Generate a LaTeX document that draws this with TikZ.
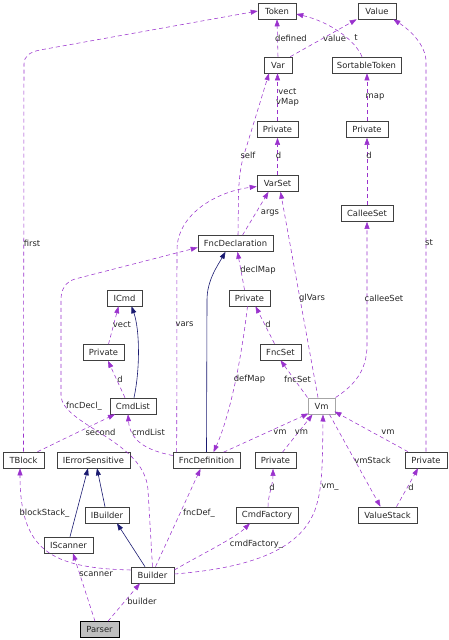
\documentclass[tikz,border=0pt]{standalone}
\usepackage{fontspec}
\setmainfont{DejaVu Sans}
\usetikzlibrary{arrows.meta,calc}
\definecolor{usecol}{HTML}{9A32CD}
\definecolor{inhcol}{HTML}{191970}
\tikzset{
 cls/.style={draw=black!75, line width=0.6pt, fill=white, minimum height=16pt, inner sep=0pt, font=\fontsize{8.4}{10}\selectfont, text=black!85},
 use/.style={draw=usecol, line width=0.55pt, dash pattern=on 4pt off 3pt, -{Triangle[length=7pt,width=5pt,fill=usecol]}},
 inh/.style={draw=inhcol, line width=0.6pt, -{Triangle[length=7pt,width=5pt,fill=inhcol]}},
 lbl/.style={inner sep=0pt, font=\fontsize{8.4}{10}\selectfont, text=black!85},
}
\begin{document}
\begin{tikzpicture}[x=1pt,y=-1pt]
\useasboundingbox (0,0) rectangle (449,640);
% classes
\node[cls, minimum width=38pt] (Token) at (277,11) {Token};
\node[cls, minimum width=38pt] (Value) at (377,11) {Value};
\node[cls, minimum width=28pt] (Var) at (278,65) {Var};
\node[cls, minimum width=69pt] (SortableToken) at (366.5,65) {SortableToken};
\node[cls, minimum width=41pt] (PrivA) at (277.5,129.5) {Private};
\node[cls, minimum width=42pt] (PrivB) at (367,129.5) {Private};
\node[cls, minimum width=41pt] (VarSet) at (277.5,183.5) {VarSet};
\node[cls, minimum width=52pt] (CalleeSet) at (367,213.5) {CalleeSet};
\node[cls, minimum width=75pt] (FncDecl) at (235.5,243.5) {FncDeclaration};
\node[cls, minimum width=41pt] (PrivC) at (249.5,298) {Private};
\node[cls, minimum width=41pt] (FncSet) at (280.5,352) {FncSet};
\node[cls, minimum width=35pt] (ICmd) at (124.5,298) {ICmd};
\node[cls, minimum width=41pt] (PrivD) at (103.5,352.5) {Private};
\node[cls, minimum width=46pt] (CmdList) at (133,406) {CmdList};
\node[cls, minimum width=27pt, draw=gray!70, line width=1pt] (Vm) at (321.5,406) {Vm};
\node[cls, minimum width=41pt] (TBlock) at (23.5,460) {TBlock};
\node[cls, minimum width=73pt] (IErr) at (93.5,460) {IErrorSensitive};
\node[cls, minimum width=67pt] (FncDef) at (206.5,460.5) {FncDefinition};
\node[cls, minimum width=41pt] (PrivE) at (275.5,460.5) {Private};
\node[cls, minimum width=42pt] (PrivF) at (426,460) {Private};
\node[cls, minimum width=44pt] (IBuilder) at (107,515) {IBuilder};
\node[cls, minimum width=62pt] (CmdFactory) at (267,515) {CmdFactory};
\node[cls, minimum width=59pt] (ValueStack) at (387.5,515) {ValueStack};
\node[cls, minimum width=49pt] (IScanner) at (68.5,545) {IScanner};
\node[cls, minimum width=43pt] (Builder) at (152.5,575) {Builder};
\node[cls, minimum width=39pt, fill=black!25, draw=black] (Parser) at (99.5,629.5) {Parser};

% usage edges
\draw[use] (TBlock.north) -- (24,64) .. controls (24,56) and (30,52) .. (40,50) -- (Token.west);
\draw[use] (Var.north) -- (Token.south);
\draw[use] ([xshift=-2pt]Var.north east) -- ([xshift=-1pt]Value.south west);
\draw[use] ([xshift=-4.5pt]SortableToken.north) .. controls (355,40) and (330,22) .. ([yshift=-3pt]Token.east);
\draw[use] (PrivF.north) -- (426,62) .. controls (426,45) and (410,30) .. ([xshift=-3pt]Value.south east);
\draw[use] (PrivA.north) -- (PrivA.north |- Var.south);
\draw[use] (PrivB.north) -- (PrivB.north |- SortableToken.south);
\draw[use] (VarSet.north) -- (PrivA.south);
\draw[use] (CalleeSet.north) -- (PrivB.south);
\draw[use] ([xshift=2.5pt]FncDecl.north) -- (238.5,195) .. controls (239,180) and (240,170) .. (243,158) -- ([xshift=-9pt]Var.south);
\draw[use] ([xshift=7pt]FncDecl.north) -- ([xshift=-9pt]VarSet.south);
\draw[use] ([xshift=4pt]FncDef.north west) -- (177,250) .. controls (177,215) and (215,192) .. ([yshift=-3pt]VarSet.west);
\draw[use] ([xshift=-3.5pt]Vm.north) -- ([xshift=3pt]VarSet.south);
\draw[use] (Vm.north east) .. controls (355,385) and (367,370) .. (367,345) -- (CalleeSet.south);
\draw[use] ([xshift=-5pt]PrivC.north) -- ([xshift=2pt]FncDecl.south);
\draw[use] ([xshift=-6pt]FncSet.north) -- ([xshift=6pt]PrivC.south);
\draw[use] ([xshift=-2pt]PrivC.south) .. controls (240,370) and (228,420) .. ([xshift=7pt]FncDef.north);
\draw[use] (Vm.north west) -- (FncSet.south);
\draw[use] ([xshift=17pt]FncDef.north) -- ([xshift=1pt,yshift=1pt]Vm.south west);
\draw[use] ([xshift=7pt]PrivE.north) -- ([xshift=-9pt]Vm.south);
\draw[use] ([yshift=1pt]Builder.east) .. controls (250,568) and (300,550) .. (315,510) .. controls (322,490) and (322.5,470) .. ([xshift=1.5pt]Vm.south);
\draw[use] ([xshift=8pt]Vm.south) -- ([xshift=-7pt]ValueStack.north);
\draw[use] ([xshift=-18pt]PrivF.north) -- ([xshift=-1pt,yshift=3pt]Vm.south east);
\draw[use] ([xshift=9pt]ValueStack.north) -- ([xshift=-8pt]PrivF.south);
\draw[use] ([xshift=1pt]CmdFactory.north) .. controls (268,495) and (273,485) .. ([xshift=-2.5pt]PrivE.south);
\draw[use] ([yshift=5pt]Builder.east) .. controls (200,555) and (235,538) .. ([xshift=-17pt]CmdFactory.south);
\draw[use] ([xshift=3pt]Builder.north) -- ([xshift=-6pt]FncDef.south);
\draw[use] (Builder.north) -- (148,490) .. controls (145,440) and (61,425) .. (61,395) -- (61,300) .. controls (61,290) and (65,282) .. (75,279) -- ([yshift=-4pt]FncDecl.west);
\draw[use] ([xshift=14pt]TBlock.north) -- ([xshift=-18pt]CmdList.south);
\draw[use] ([yshift=5pt]FncDef.west) .. controls (145,450) and (130,440) .. ([xshift=-5pt]CmdList.south);
\draw[use] ([xshift=-8pt]CmdList.north) -- ([xshift=4.5pt]PrivD.south);
\draw[use] ([xshift=5pt]PrivD.north) -- ([xshift=-6pt]ICmd.south);
\draw[use] ([yshift=5pt]Builder.west) .. controls (50,568) and (20,550) .. ([xshift=-3.5pt]TBlock.south);
\draw[use] ([xshift=-4.5pt]Parser.north) -- ([xshift=4.5pt]IScanner.south);
\draw[use] ([xshift=8.5pt]Parser.north) -- ([xshift=-12.5pt]Builder.south);

% inheritance edges
\draw[inh] (FncDef.north) -- (207,300) .. controls (207,280) and (218,265) .. ([xshift=-10pt]FncDecl.south);
\draw[inh] ([xshift=1pt]CmdList.north) .. controls (140,370) and (140,330) .. ([xshift=7pt]ICmd.south);
\draw[inh] ([xshift=1.5pt]IScanner.north) -- ([xshift=-5.5pt]IErr.south);
\draw[inh] ([xshift=-2pt]IBuilder.north) -- ([xshift=3.5pt]IErr.south);
\draw[inh] ([xshift=-7.5pt]Builder.north) -- ([xshift=10pt]IBuilder.south);

% labels
\node[lbl] (l1) at (32,243) {first};
\node[lbl] (l2) at (291,38) {defined};
\node[lbl] (l3) at (334.5,38) {value};
\node[lbl] (l4) at (356,38) {t};
\node[lbl] (l5) at (287.5,92) {vect};
\node[lbl] (l6) at (287.5,102) {vMap};
\node[lbl] (l7) at (375,97) {map};
\node[lbl] (l8) at (248,155) {self};
\node[lbl] (l9) at (278.5,155) {d};
\node[lbl] (l10) at (369,155) {d};
\node[lbl] (l11) at (429,243) {st};
\node[lbl] (l12) at (270,213) {args};
\node[lbl] (l13) at (258,270) {declMap};
\node[lbl] (l14) at (312,298) {glVars};
\node[lbl] (l15) at (384,298) {calleeSet};
\node[lbl] (l16) at (184.5,324) {vars};
\node[lbl] (l17) at (268,324) {d};
\node[lbl] (l18) at (249.5,379) {defMap};
\node[lbl] (l19) at (297.5,379) {fncSet};
\node[lbl] (l20) at (122,325) {vect};
\node[lbl] (l21) at (120,379) {d};
\node[lbl] (l22) at (84,406) {fncDecl\_};
\node[lbl] (l23) at (100.5,432) {second};
\node[lbl] (l24) at (148.5,432) {cmdList};
\node[lbl] (l25) at (280,432) {vm};
\node[lbl] (l26) at (301.5,432) {vm};
\node[lbl] (l27) at (388,432) {vm};
\node[lbl] (l28) at (372.5,460) {vmStack};
\node[lbl] (l29) at (272,487) {d};
\node[lbl] (l30) at (330,487) {vm\_};
\node[lbl] (l31) at (411,487) {d};
\node[lbl] (l32) at (44.5,513) {blockStack\_};
\node[lbl] (l33) at (199,513) {fncDef\_};
\node[lbl] (l34) at (256.5,544) {cmdFactory\_};
\node[lbl] (l35) at (96,574) {scanner};
\node[lbl] (l36) at (142,601) {builder};
\end{tikzpicture}
\end{document}
